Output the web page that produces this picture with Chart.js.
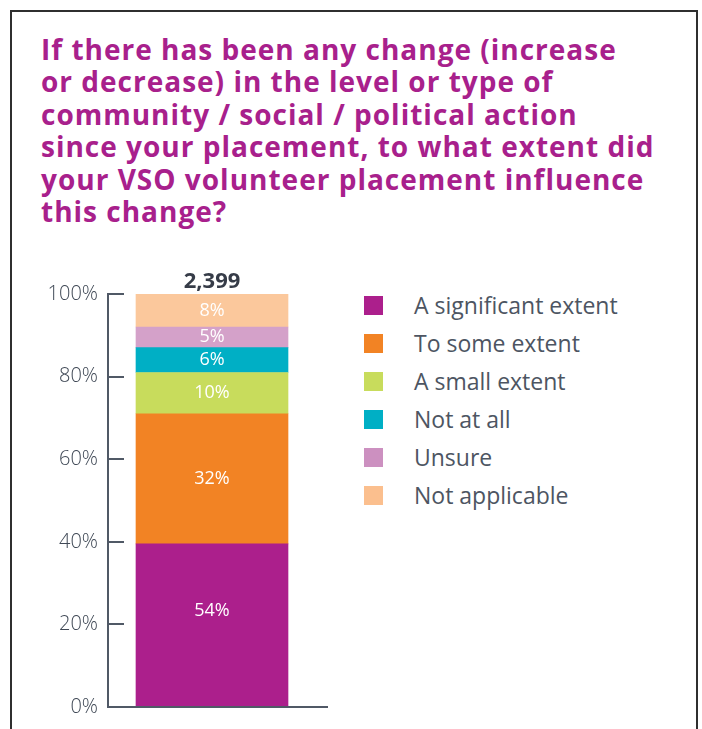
<!DOCTYPE html>
<html>
<head>
<meta charset="utf-8">
<script src="https://cdn.jsdelivr.net/npm/chart.js@4"></script>
<style>
  body { margin: 0; background: #fff; width: 702px; height: 729px; overflow: hidden; position: relative; }
  #frame { position: absolute; left: 10px; top: 10px; width: 684px; height: 800px; border: 2px solid #2f2f2f; }
  #title { position: absolute; left: 41px; top: 33px; margin: 0; color: #a8208c;
    font: 700 28px "Open Sans", sans-serif; line-height: 32.4px; letter-spacing: 1px; }
  #chartBox { position: absolute; left: 0; top: 250px; width: 360px; height: 479px; }
  #legend { position: absolute; left: 364px; top: 295px; font: 23px "Open Sans", sans-serif; color: #4d5562; }
  .item { height: 38px; position: relative; }
  .swatch { width: 19px; height: 19px; position: absolute; left: 0; top: 1px; }
  .item span { position: absolute; left: 50px; top: -5px; line-height: 30px; white-space: nowrap; }
</style>
</head>
<body>
<div id="frame"></div>
<div id="title">If there has been any change (increase<br>or decrease) in the level or type of<br>community / social / political action<br>since your placement, to what extent did<br>your VSO volunteer placement influence<br>this change?</div>
<div id="chartBox"><canvas id="chart"></canvas></div>
<div id="legend"></div>

<script>
// Answers, bottom to top
const answers = ["A significant extent", "To some extent", "A small extent", "Not at all", "Unsure", "Not applicable"];
// Segment heights as drawn (share of bar)
const segmentValues = [39.5, 31.5, 10, 6, 5, 8];
// Labels printed on each segment
const segmentLabels = ["54%", "32%", "10%", "6%", "5%", "8%"];
const colors = ["#ac1f8c", "#f28324", "#c8dc5c", "#00afc5", "#d4a1c9", "#fbc89c"];
const legendColors = ["#ac1f8c", "#f28324", "#c8dc5c", "#00afc5", "#cc90c0", "#fbbf8e"];
const totalLabel = "2,399";
const yTicks = [0, 20, 40, 60, 80, 100];

const axisColor = "#505966";

// Build legend
const legend = document.getElementById("legend");
answers.forEach((a, i) => {
  const row = document.createElement("div");
  row.className = "item";
  row.innerHTML = `<div class="swatch" style="background:${legendColors[i]}"></div><span>${a}</span>`;
  legend.appendChild(row);
});

// Draw inward tick marks, baseline, segment labels and total
const extrasPlugin = {
  id: "extras",
  afterDatasetsDraw(chart) {
    const ctx = chart.ctx;
    const y = chart.scales.y;
    const area = chart.chartArea;
    ctx.save();
    ctx.strokeStyle = axisColor;
    ctx.lineWidth = 2;
    yTicks.forEach(t => {
      const py = Math.round(y.getPixelForValue(t));
      ctx.beginPath();
      ctx.moveTo(area.left, py);
      ctx.lineTo(area.left + 16, py);
      ctx.stroke();
    });
    const py0 = y.getPixelForValue(0);
    ctx.beginPath();
    ctx.moveTo(area.left, py0);
    ctx.lineTo(area.left + 220, py0);
    ctx.stroke();

    ctx.fillStyle = "#fff";
    ctx.font = '18px "Open Sans", sans-serif';
    ctx.textAlign = "center";
    ctx.textBaseline = "middle";
    let barX = 0;
    chart.data.datasets.forEach((ds, i) => {
      const bar = chart.getDatasetMeta(i).data[0];
      barX = bar.x;
      let mid = (bar.y + bar.base) / 2;
      if (i === 0) mid -= 15; // bottom label sits a bit high in the original
      ctx.fillText(segmentLabels[i], bar.x, mid);
    });
    ctx.fillStyle = "#363c48";
    ctx.font = 'bold 22px "Open Sans", sans-serif';
    ctx.fillText(totalLabel, barX, y.getPixelForValue(100) - 12);
    ctx.restore();
  }
};

new Chart(document.getElementById("chart"), {
  type: "bar",
  data: {
    labels: [""],
    datasets: answers.map((a, i) => ({
      label: a,
      data: [segmentValues[i]],
      backgroundColor: colors[i],
      barThickness: 152
    }))
  },
  options: {
    responsive: true,
    maintainAspectRatio: false,
    animation: false,
    layout: { padding: { left: 0, right: 44, top: 44, bottom: 22 } },
    plugins: { legend: { display: false }, tooltip: { enabled: false } },
    scales: {
      x: { stacked: true, display: false },
      y: {
        stacked: true,
        min: 0,
        max: 100,
        afterFit(scale) { scale.width = 108; },
        ticks: {
          stepSize: 20,
          padding: 10,
          color: "#3f4855",
          font: { family: "Open Sans", size: 20, weight: 300 },
          callback: v => v + "%"
        },
        grid: { display: false, drawTicks: false },
        border: { display: true, color: axisColor, width: 2 }
      }
    }
  },
  plugins: [extrasPlugin]
});
</script>
</body>
</html>
